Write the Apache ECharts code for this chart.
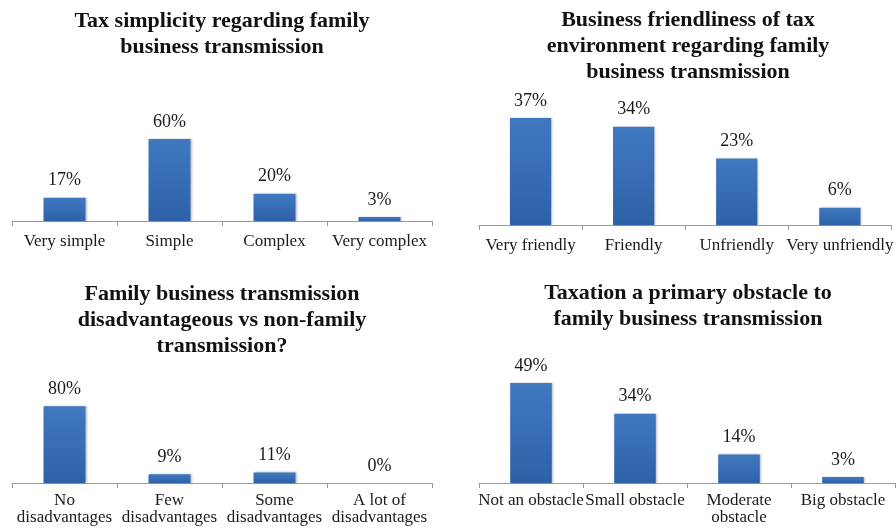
<!DOCTYPE html>
<html>
<head>
<meta charset="utf-8">
<script src="https://cdn.jsdelivr.net/npm/echarts@6/dist/echarts.min.js"></script>
<style>
  html, body { margin: 0; padding: 0; background: #ffffff; }
  #chart { width: 896px; height: 531px; }
</style>
</head>
<body>
<div id="chart"></div>
<script>
// Survey results: four small bar charts
const simplicityCats = ['Very simple', 'Simple', 'Complex', 'Very complex'];
const simplicityVals = [17, 60, 20, 3];

const friendlinessCats = ['Very friendly', 'Friendly', 'Unfriendly', 'Very unfriendly'];
const friendlinessVals = [37, 34, 23, 6];

const disadvantageCats = ['No\ndisadvantages', 'Few\ndisadvantages', 'Some\ndisadvantages', 'A lot of\ndisadvantages'];
const disadvantageVals = [80, 9, 11, 0];

const obstacleCats = ['Not an obstacle', 'Small obstacle', 'Moderate\nobstacle', 'Big obstacle'];
const obstacleVals = [49, 34, 14, 3];

const titles = [
  'Tax simplicity regarding family\nbusiness transmission',
  'Business friendliness of tax\nenvironment regarding family\nbusiness transmission',
  'Family business transmission\ndisadvantageous vs non-family\ntransmission?',
  'Taxation a primary obstacle to\nfamily business transmission'
];

const SERIF = '"Liberation Serif", "DejaVu Serif", serif';

// Layout of each panel: plot box, value range, label margin, title anchor
const panels = [
  { cats: simplicityCats,   vals: simplicityVals,   left: 12,  width: 420, axisY: 221, max: 70, pxPer: 1.367, margin: 12, tx: 222, ty: 8 },
  { cats: friendlinessCats, vals: friendlinessVals, left: 479, width: 416, axisY: 225, max: 40, pxPer: 2.89,  margin: 12, tx: 688, ty: 7 },
  { cats: disadvantageCats, vals: disadvantageVals, left: 12,  width: 420, axisY: 483, max: 90, pxPer: 0.96,  margin: 9,  tx: 222, ty: 281 },
  { cats: obstacleCats,     vals: obstacleVals,     left: 479, width: 416, axisY: 483, max: 60, pxPer: 2.04,  margin: 9,  tx: 688, ty: 280 }
];

const barColor = new echarts.graphic.LinearGradient(0, 0, 0, 1, [
  { offset: 0, color: '#4079c1' },
  { offset: 1, color: '#2d61a7' }
]);

const grid = [], xAxis = [], yAxis = [], series = [], graphic = [];

panels.forEach((p, i) => {
  const h = p.max * p.pxPer;
  grid.push({ left: p.left, top: p.axisY - h, width: p.width, height: h, containLabel: false });
  xAxis.push({
    type: 'category',
    gridIndex: i,
    data: p.cats,
    boundaryGap: true,
    axisLine: { show: true, lineStyle: { color: '#9a9a9a', width: 1 } },
    axisTick: { show: true, length: 5, lineStyle: { color: '#9a9a9a' }, alignWithLabel: false },
    axisLabel: {
      interval: 0,
      margin: p.margin,
      fontFamily: SERIF,
      fontSize: 17,
      lineHeight: 17,
      color: '#1a1a1a'
    },
    splitLine: { show: false }
  });
  yAxis.push({ type: 'value', gridIndex: i, min: 0, max: p.max, show: false });
  series.push({
    type: 'bar',
    xAxisIndex: i,
    yAxisIndex: i,
    data: p.vals,
    barWidth: '40%',
    itemStyle: {
      color: barColor,
      shadowColor: 'rgba(0,0,0,0.25)',
      shadowBlur: 2,
      shadowOffsetX: 1,
      shadowOffsetY: 0
    },
    label: {
      show: true,
      position: 'top',
      distance: 8,
      formatter: '{c}%',
      fontFamily: SERIF,
      fontSize: 18,
      color: '#1a1a1a'
    },
    silent: true
  });
  graphic.push({
    type: 'text',
    x: p.tx,
    y: p.ty,
    style: {
      text: titles[i],
      textAlign: 'center',
      textVerticalAlign: 'top',
      font: 'bold 22px ' + SERIF,
      lineHeight: 26,
      fill: '#111111'
    }
  });
});

const chart = echarts.init(document.getElementById('chart'), null, { renderer: 'canvas' });
chart.setOption({
  animation: false,
  backgroundColor: '#ffffff',
  grid, xAxis, yAxis, series, graphic
});
</script>
</body>
</html>
